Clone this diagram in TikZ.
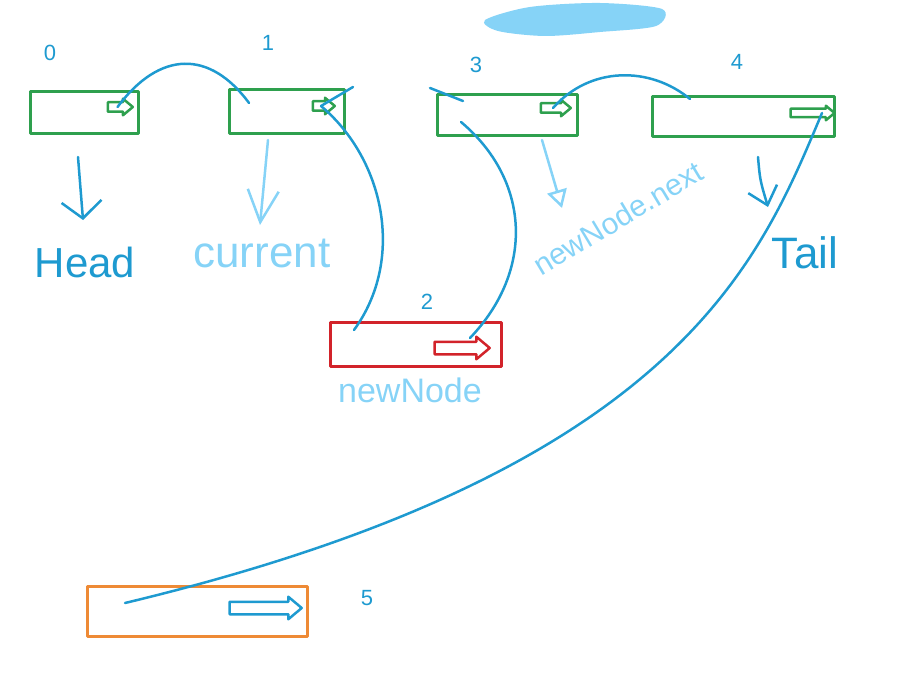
\documentclass[tikz,border=0pt]{standalone}
\usepackage{fontspec}
\setmainfont{Liberation Sans}
\usetikzlibrary{arrows.meta,shapes.arrows}
\definecolor{boxgreen}{HTML}{2EA04E}
\definecolor{newred}{HTML}{D2232A}
\definecolor{tailorange}{HTML}{EE8A35}
\definecolor{linkblue}{HTML}{1E9AD0}
\definecolor{skyblue}{HTML}{86D3F7}

\begin{document}
\begin{tikzpicture}
  [x=1pt,y=-1pt,line cap=round,line join=round,
   box/.style={draw,line width=3pt,minimum height=42pt,inner sep=0pt},
   nxt/.style={single arrow,draw,line width=2.5pt,inner xsep=0pt,inner ysep=3.5pt,
     single arrow head extend=3.5pt,single arrow tip angle=80},
   link/.style={draw=linkblue,line width=2.5pt},
   num/.style={text=linkblue,font=\fontsize{22}{22}\selectfont},
   lbl/.style={font=\fontsize{34}{34}\selectfont}]
  \useasboundingbox (0,0) rectangle (900,674);

  \fill[skyblue] plot[smooth cycle] coordinates
    {(485,20) (530,7) (600,3) (662,9) (656,26) (600,32) (545,36) (498,31)};

  \node[box,draw=boxgreen,minimum width=108pt] (n0) at (84,112.5) {};
  \node[box,draw=boxgreen,minimum width=115pt,minimum height=44pt] (n1) at (286.5,112) {};
  \node[box,draw=boxgreen,minimum width=140pt,minimum height=41pt] (n3) at (507,115.5) {};
  \node[box,draw=boxgreen,minimum width=182pt,minimum height=40pt] (n4) at (743,117) {};
  \node[box,draw=newred,minimum width=171pt,minimum height=44pt] (nn) at (415.5,344) {};
  \node[box,draw=tailorange,minimum width=220pt,minimum height=50pt] (n5) at (197,611) {};

  \node[nxt,draw=boxgreen,minimum height=25pt] (a0) at (117.5,107) {};
  \node[nxt,draw=boxgreen,minimum height=22pt] (a1) at (321,106) {};
  \node[nxt,draw=boxgreen,minimum height=30pt] (a3) at (553,108) {};
  \node[nxt,draw=boxgreen,minimum height=44pt,inner ysep=3pt,single arrow head extend=3pt] (a4) at (810,113) {};
  \node[nxt,draw=newred,minimum height=55pt,inner ysep=5pt,single arrow head extend=5pt] (an) at (458.5,348) {};
  \node[nxt,draw=linkblue,minimum height=72pt,inner ysep=5pt,single arrow head extend=5pt] (a5) at (262,608) {};

  \node[num] (k0) at (50,53) {0};
  \node[num] (k1) at (268,43) {1};
  \node[num] (k3) at (476,65) {3};
  \node[num] (k4) at (737,62) {4};
  \node[num] (k2) at (427,302) {2};
  \node[num] (k5) at (367,598) {5};

  \node[lbl,text=linkblue,font=\fontsize{42}{42}\selectfont] (head) at (85,262) {Head};
  \node[lbl,text=skyblue,font=\fontsize{44}{44}\selectfont] (cur) at (262,253) {current};
  \node[lbl,text=skyblue,rotate=31,font=\fontsize{30}{30}\selectfont] (nxtlbl) at (618,218) {newNode.next};
  \node[lbl,text=linkblue,font=\fontsize{44}{44}\selectfont] (tail) at (805,253) {Tail};
  \node[lbl,text=skyblue] (newlbl) at (410,390) {newNode};

  \coordinate (p1) at (249,103);
  \coordinate (q1) at (353,87);
  \coordinate (q2) at (354,330);
  \coordinate (q3) at (430,88);
  \coordinate (q4) at (463,101);
  \coordinate (q5) at (461,122);
  \coordinate (q6) at (470,338);
  \coordinate (q7) at (690,99);
  \coordinate (q8) at (822,113);
  \coordinate (q9) at (125,603);

  \draw[link] (p1) .. controls (210,50) and (160,50) .. (a0.center);
  \draw[link] (q1) -- (a1.center);
  \draw[link] (a1.center) .. controls (385,160) and (405,260) .. (q2);
  \draw[link] (q3) -- (q4);
  \draw[link] (q5) .. controls (530,180) and (535,270) .. (q6);
  \draw[link] (q7) .. controls (650,66) and (590,66) .. (a3.center);
  \draw[link] (q8) .. controls (760,260) and (680,470) .. (q9);

  \coordinate (h1) at (78,157);
  \coordinate (h2) at (83,220);
  \coordinate (c1) at (268,140);
  \coordinate (c2) at (260,225);
  \coordinate (x1) at (542,140);
  \coordinate (x2) at (562,208);
  \coordinate (t1) at (758,157);
  \coordinate (t2) at (768,207);

  \draw[link,-{Straight Barb[length=17pt,width=40pt]}] (h1) -- (h2);
  \draw[draw=skyblue,line width=2.5pt,-{Straight Barb[length=32pt,width=31pt]}] (c1) -- (c2);
  \draw[draw=skyblue,line width=2.5pt,-{Triangle[open,length=18pt,width=20pt]}] (x1) -- (x2);
  \draw[link,-{Straight Barb[length=17pt,width=30pt]}] (t1) .. controls (760,180) .. (t2);
\end{tikzpicture}
\end{document}
